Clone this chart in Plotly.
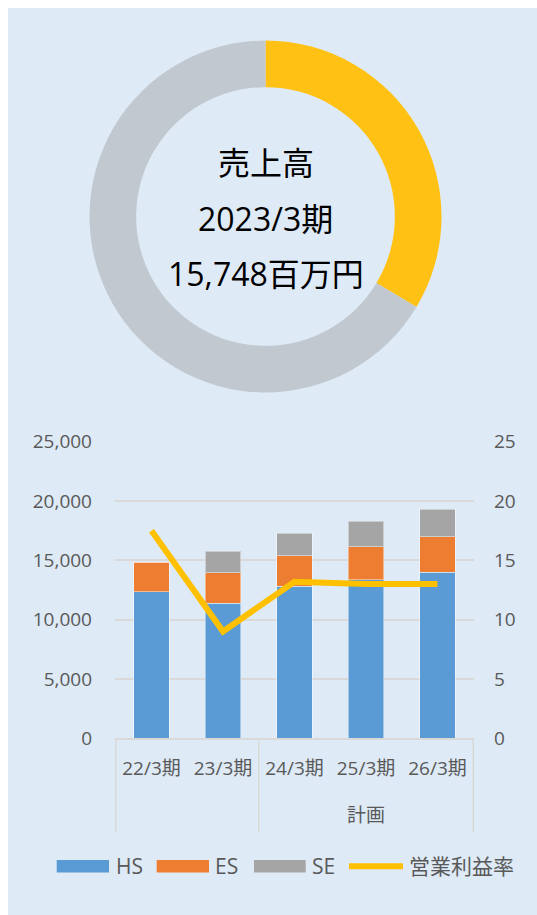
import plotly.graph_objects as go

# ---- data ----
donut_labels = ["2023/3期 売上高", "その他"]
donut_values = [33.6, 66.4]

periods = ["22/3期", "23/3期", "24/3期", "25/3期", "26/3期"]
plan_label = "計画"
hs = [12360, 11400, 12800, 13350, 14000]
es = [2500, 2570, 2600, 2800, 3000]
se = [0, 1778, 1900, 2150, 2300]
op_margin = [17.5, 9.0, 13.2, 13.0, 13.0]

left_ticks = [0, 5000, 10000, 15000, 20000, 25000]
right_ticks = [0, 5, 10, 15, 20, 25]

W, H = 537, 915
FONT = "Open Sans, Noto Sans CJK JP"
GREY_TXT = "#595959"
GRID = "#D9D9D9"
BG = "#DEEAF6"
C_HS, C_ES, C_SE, C_OP = "#5B9BD5", "#ED7D31", "#A5A5A5", "#FFC000"


def py(p):  # pixel-from-top -> paper fraction
    return 1 - p / H


fig = go.Figure()

# donut
cx, cy, R = 265.5, 216.5, 176
fig.add_trace(go.Pie(
    labels=donut_labels, values=donut_values, hole=0.735,
    sort=False, direction="clockwise", rotation=0,
    marker=dict(colors=["#FFC214", "#C1C8CF"], line=dict(width=0)),
    textinfo="none", hoverinfo="label+percent", showlegend=False, automargin=False,
    domain=dict(x=[(cx - R) / W, (cx + R) / W], y=[py(cy + R), py(cy - R)]),
))

bar_line = dict(color="rgba(255,255,255,0.45)", width=1)
fig.add_trace(go.Bar(x=periods, y=hs, name="HS", marker=dict(color=C_HS, line=bar_line), showlegend=False))
fig.add_trace(go.Bar(x=periods, y=es, name="ES", marker=dict(color=C_ES, line=bar_line), showlegend=False))
fig.add_trace(go.Bar(x=periods, y=se, name="SE", marker=dict(color=C_SE, line=bar_line), showlegend=False))
fig.add_trace(go.Scatter(x=periods, y=op_margin, name="営業利益率", yaxis="y2", mode="lines",
                         line=dict(color=C_OP, width=6), showlegend=False))

px0, px1 = 115, 474
py_top, py_bot = 441.7, 738.3
axis_bottom = 832

shapes = [dict(type="rect", xref="paper", yref="paper", x0=8 / W, x1=1, y0=0, y1=py(8),
               fillcolor=BG, line=dict(width=0), layer="below")]
# group dividers below the category axis
for xv in [-0.5, 1.5, len(periods) - 0.5]:
    shapes.append(dict(type="line", xref="x", yref="paper", x0=xv, x1=xv,
                       y0=py(py_bot), y1=py(axis_bottom), line=dict(color=GRID, width=1.5)))

annotations = [
    dict(text=t, x=cx / W, y=py(yy), xref="paper", yref="paper", showarrow=False,
         font=dict(size=32, color="black", family=FONT), xanchor="center", yanchor="middle")
    for t, yy in [("売上高", 163), ("2023/3期", 218.5), ("15,748百万円", 273)]
]
annotations.append(dict(text=plan_label, x=3, xref="x", y=py(815), yref="paper", showarrow=False,
                        font=dict(size=19, color=GREY_TXT, family=FONT), xanchor="center", yanchor="middle"))

# legend (wide swatches like the original)
leg_y = 866.3
legend_items = [("HS", C_HS, "bar", 56.7, 109, 114),
                ("ES", C_ES, "bar", 156.7, 209, 213),
                ("SE", C_SE, "bar", 254, 305.7, 310),
                ("営業利益率", C_OP, "line", 349, 403, 407)]
for name, col, kind, x0, x1, tx in legend_items:
    if kind == "bar":
        shapes.append(dict(type="rect", xref="paper", yref="paper", x0=x0 / W, x1=x1 / W,
                           y0=py(leg_y + 6.3), y1=py(leg_y - 6.3), fillcolor=col, line=dict(width=0)))
    else:
        shapes.append(dict(type="line", xref="paper", yref="paper", x0=x0 / W, x1=x1 / W,
                           y0=py(leg_y), y1=py(leg_y), line=dict(color=col, width=6)))
    annotations.append(dict(text=name, x=tx / W, y=py(leg_y), xref="paper", yref="paper",
                            showarrow=False, xanchor="left", yanchor="middle",
                            font=dict(size=21, color=GREY_TXT, family=FONT)))

fig.update_layout(
    width=W, height=H, autosize=False,
    margin=dict(l=0, r=0, t=0, b=0, pad=0, autoexpand=False),
    paper_bgcolor="white", plot_bgcolor="rgba(0,0,0,0)",
    font=dict(family=FONT, color=GREY_TXT, size=19),
    barmode="stack", bargap=0.5, showlegend=False,
    xaxis=dict(domain=[px0 / W, px1 / W], type="category", automargin=False,
               showline=True, linecolor=GRID, linewidth=1.5,
               tickfont=dict(size=19, color=GREY_TXT, family=FONT),
               showgrid=False, ticks="", ticklabelstandoff=12),
    yaxis=dict(domain=[py(py_bot), py(py_top)], range=[0, 25000], automargin=False,
               tickvals=left_ticks, tickformat=",", showgrid=True, gridcolor=GRID,
               gridwidth=1.5, zeroline=False, ticks="", ticklabelstandoff=22,
               tickfont=dict(size=19, color=GREY_TXT, family=FONT)),
    yaxis2=dict(overlaying="y", side="right", range=[0, 25], tickvals=right_ticks, automargin=False,
                showgrid=False, zeroline=False, ticks="", ticklabelstandoff=19,
                tickfont=dict(size=19, color=GREY_TXT, family=FONT)),
    shapes=shapes,
    annotations=annotations,
)

fig.write_html(
    "out.html",
    config={"displayModeBar": False},
    post_script=(
        "document.documentElement.style.margin='0';"
        "document.body.style.margin='0';"
        "document.documentElement.style.overflow='hidden';"
        "document.body.style.overflow='hidden';"
    ),
)
